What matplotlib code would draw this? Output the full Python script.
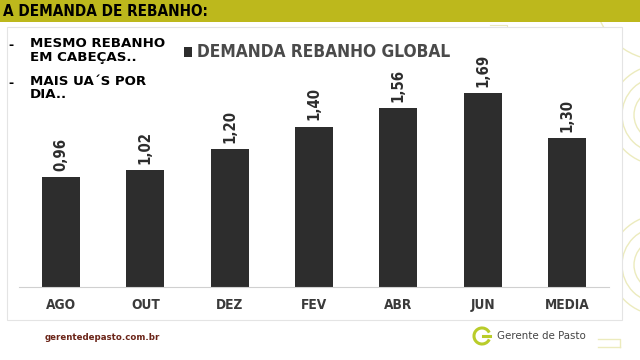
import matplotlib
matplotlib.use("Agg")
import matplotlib.pyplot as plt
from matplotlib import font_manager as fm
from matplotlib.patches import Rectangle, Arc, Circle

categorias = ["AGO", "OUT", "DEZ", "FEV", "ABR", "JUN", "MEDIA"]
demanda = [0.96, 1.02, 1.20, 1.40, 1.56, 1.69, 1.30]

OLIVE = "#bdb81c"
BAR = "#2d2d2d"

# procura uma fonte estreita parecida com Arial Narrow
fontes = fm.fontManager.ttflist
NARROW = dict(family=["Roboto", "DejaVu Sans"])
if any(f.name == "Liberation Sans Narrow" for f in fontes):
    NARROW = dict(family=["Liberation Sans Narrow", "DejaVu Sans"])
elif any(f.name == "DejaVu Sans" and "condensed" in str(f.stretch) for f in fontes):
    NARROW = dict(family=["DejaVu Sans"], fontstretch="condensed")

fig = plt.figure(figsize=(6.4, 3.6), dpi=100)
fig.patch.set_facecolor("white")

# fundo do slide em coordenadas de pixel
bg = fig.add_axes([0, 0, 1, 1])
bg.set_xlim(0, 640)
bg.set_ylim(360, 0)
bg.axis("off")

# arcos decorativos à direita
for cy in (115, 265):
    for r in (26, 38, 50):
        bg.add_patch(Circle((660, cy), r, fill=False, ec="#ecebbd", lw=1.0, zorder=1))
bg.add_patch(Circle((660, -5), 65, fill=False, ec="#ecebbd", lw=1.0, zorder=1))
bg.plot([598, 620, 620], [339, 339, 347], color="#ecebbd", lw=1, zorder=1)
bg.plot([598, 620], [347, 347], color="#ecebbd", lw=1, zorder=1)

# faixa do título
bg.add_patch(Rectangle((0, 0), 640, 22, color=OLIVE, lw=0, zorder=4))
titulo = bg.text(3, 11.5, "A DEMANDA DE REBANHO:", fontsize=14, fontweight="heavy",
                 va="center", ha="left", color="black", zorder=5, **NARROW)

# painel do gráfico
bg.add_patch(Rectangle((7, 27), 615, 293, fc="white", ec="#e4e4e4", lw=0.8, zorder=2))
bg.plot([490, 507, 507], [25, 25, 35], color="#e8e6bf", lw=0.8, zorder=1)

# notas à esquerda
bg.text(8, 46, "-", fontsize=9, fontweight="bold", va="center", zorder=3)
bg.text(8, 83, "-", fontsize=9, fontweight="bold", va="center", zorder=3)
nota1 = bg.text(30, 37, "MESMO REBANHO\nEM CABEÇAS..", fontsize=9.6, fontweight="bold",
                va="top", ha="left", linespacing=1.05, zorder=3)
nota2 = bg.text(30, 75, "MAIS UA´S POR\nDIA..", fontsize=9.6, fontweight="bold",
                va="top", ha="left", linespacing=1.05, zorder=3)

# legenda
bg.add_patch(Rectangle((184, 47), 8, 10, color=BAR, lw=0, zorder=3))
legenda = bg.text(197, 52, "DEMANDA REBANHO GLOBAL", fontsize=13, fontweight="heavy",
                  color="#4a4a4a", va="center", ha="left", zorder=3, **NARROW)

# rodapé
rodape = bg.text(45, 337, "gerentedepasto.com.br", fontsize=7, fontweight="bold",
                 color="#6b2418", va="center", ha="left")
bg.add_patch(Arc((482, 336), 16, 16, theta1=25, theta2=335, color="#b9cc2a", lw=2.2))
bg.plot([483, 490], [336, 336], color="#b9cc2a", lw=2.2)
logo = bg.text(497, 336, "Gerente de Pasto", fontsize=9.5, color="#444444",
               va="center", ha="left", **NARROW)

# gráfico de barras
ax = fig.add_axes([19 / 640, 73 / 360, 590 / 640, 206.3 / 360])
ax.set_facecolor("none")
ax.set_zorder(3)
x = range(len(categorias))
bars = ax.bar(x, demanda, width=0.45, color=BAR, zorder=2)
ax.set_xlim(-0.5, len(categorias) - 0.5)
ax.set_ylim(0, 1.8)
rotulos = []
for b, v in zip(bars, demanda):
    rotulos.append(ax.text(b.get_x() + b.get_width() / 2, v + 0.055,
                           f"{v:.2f}".replace(".", ","), rotation=90, ha="center",
                           va="bottom", fontsize=11, fontweight="bold",
                           color="#2d2d2d", **NARROW))
ax.set_xticks(list(x))
ax.set_xticklabels(categorias, fontsize=11, fontweight="heavy", color="#3a3a3a", **NARROW)
ax.tick_params(axis="x", length=0, pad=8)
ax.set_yticks([])
for s in ("top", "right", "left"):
    ax.spines[s].set_visible(False)
ax.spines["bottom"].set_color("#d0d0d0")
ax.spines["bottom"].set_linewidth(0.8)

# ajusta tamanhos das fontes às larguras vistas na imagem original
r = fig.canvas.get_renderer()
def ajusta(textos, ref, alvo, vertical=False):
    for _ in range(2):
        bb = ref.get_window_extent(r)
        medida = bb.height if vertical else bb.width
        f = alvo / medida
        for t in textos:
            t.set_fontsize(t.get_fontsize() * f)

ajusta([titulo], titulo, 205)
ajusta([legenda], legenda, 253)
ajusta([logo], logo, 89)
ajusta([rodape], rodape, 116)
ajusta([nota1, nota2], nota1, 135)
ajusta(rotulos, rotulos[0], 33, vertical=True)
ticks = ax.get_xticklabels()
ajusta(ticks, ticks[-1], 45)

fig.savefig("out.png", dpi=100)
